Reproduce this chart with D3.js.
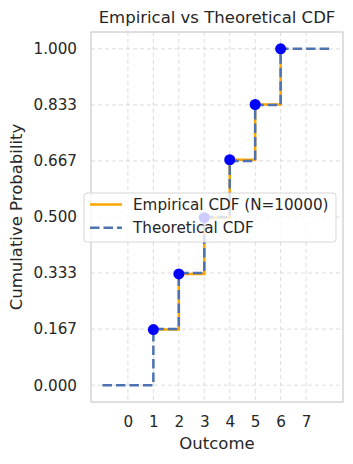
<!DOCTYPE html>
<html>
<head>
<meta charset="utf-8">
<script src="https://cdn.jsdelivr.net/npm/d3@7"></script>
<style>
  body { margin: 0; background: #fff; }
  text { font-family: "DejaVu Sans", sans-serif; fill: #262626; }
</style>
</head>
<body>
<svg id="chart" width="353" height="464"></svg>
<script>
// outcomes of a fair die
const outcomes = [1, 2, 3, 4, 5, 6];
// empirical CDF (N=10000)
const empirical = [0.1652, 0.3308, 0.4981, 0.6702, 0.8345, 1.0];
// theoretical CDF, drawn from -1 to 8
const theoX = [-1, 1, 2, 3, 4, 5, 6, 8];
const theoY = [0, 1/6, 2/6, 3/6, 4/6, 5/6, 1, 1];
const xTicks = [0, 1, 2, 3, 4, 5, 6, 7];
const yTicks = [0, 1/6, 2/6, 3/6, 4/6, 5/6, 1];

const svg = d3.select('#chart');
const pLeft = 91, pRight = 343, pTop = 32, pBottom = 402;

const x = d3.scaleLinear().domain([-1.45, 8.45]).range([pLeft, pRight]);
const y = d3.scaleLinear().domain([-0.05, 1.05]).range([pBottom, pTop]);

// grid
const grid = svg.append('g').attr('stroke', '#dcdcdc').attr('stroke-width', 1)
  .attr('stroke-dasharray', '4,3');
grid.selectAll('.gx').data(xTicks).enter().append('line')
  .attr('x1', d => x(d)).attr('x2', d => x(d)).attr('y1', pTop).attr('y2', pBottom);
grid.selectAll('.gy').data(yTicks).enter().append('line')
  .attr('y1', d => y(d)).attr('y2', d => y(d)).attr('x1', pLeft).attr('x2', pRight);

// axes (labels only, no tick marks)
const xAxis = svg.append('g').attr('transform', `translate(0,${pBottom})`)
  .call(d3.axisBottom(x).tickValues(xTicks).tickSize(0).tickPadding(14).tickFormat(d3.format('d')));
const yAxis = svg.append('g').attr('transform', `translate(${pLeft},0)`)
  .call(d3.axisLeft(y).tickValues(yTicks).tickSize(0).tickPadding(14).tickFormat(d3.format('.3f')));
[xAxis, yAxis].forEach(a => {
  a.select('.domain').remove();
  a.selectAll('text').style('font-size', '15.2px').attr('fill', '#262626')
    .style('font-family', '"DejaVu Sans", sans-serif');
});

// empirical CDF, step "post"
const stepLine = d3.line().x(d => x(d[0])).y(d => y(d[1])).curve(d3.curveStepAfter);
const empPts = outcomes.map((o, i) => [o, empirical[i]]);
svg.append('path').datum(empPts)
  .attr('d', stepLine)
  .attr('fill', 'none').attr('stroke', '#FFA500').attr('stroke-width', 2.5);

// theoretical CDF dashed
const theoPts = theoX.map((v, i) => [v, theoY[i]]);
svg.append('path').datum(theoPts)
  .attr('d', stepLine)
  .attr('fill', 'none').attr('stroke', '#4C72B0').attr('stroke-width', 2.5)
  .attr('stroke-dasharray', '9.5,4');

// markers
svg.selectAll('.dot').data(empPts).enter().append('circle')
  .attr('cx', d => x(d[0])).attr('cy', d => y(d[1])).attr('r', 5.5)
  .attr('fill', '#0000ff');

// frame
svg.append('rect').attr('x', pLeft).attr('y', pTop)
  .attr('width', pRight - pLeft).attr('height', pBottom - pTop)
  .attr('fill', 'none').attr('stroke', '#cccccc').attr('stroke-width', 1.25);

// legend
const lg = svg.append('g');
lg.append('rect').attr('x', 84).attr('y', 193).attr('width', 252).attr('height', 49)
  .attr('rx', 3).attr('fill', 'rgba(255,255,255,0.8)').attr('stroke', '#d6d6d6').attr('stroke-width', 1);
const items = [
  { label: 'Empirical CDF (N=10000)', color: '#FFA500', dash: null },
  { label: 'Theoretical CDF', color: '#4C72B0', dash: '9.5,4' }
];
items.forEach((it, i) => {
  const cy = 204.5 + i * 23.3;
  lg.append('line').attr('x1', 90).attr('x2', 122).attr('y1', cy).attr('y2', cy)
    .attr('stroke', it.color).attr('stroke-width', 2.5)
    .attr('stroke-dasharray', it.dash);
  lg.append('text').attr('x', 133).attr('y', cy).attr('dy', '0.35em')
    .style('font-size', '15.2px').text(it.label);
});

// titles
svg.append('text').attr('x', (pLeft + pRight) / 2).attr('y', 23)
  .attr('text-anchor', 'middle').style('font-size', '16.5px')
  .text('Empirical vs Theoretical CDF');
svg.append('text').attr('x', (pLeft + pRight) / 2).attr('y', 449)
  .attr('text-anchor', 'middle').style('font-size', '16.5px')
  .text('Outcome');
svg.append('text').attr('transform', `translate(22,${(pTop + pBottom) / 2}) rotate(-90)`)
  .attr('text-anchor', 'middle').style('font-size', '16.5px')
  .text('Cumulative Probability');
</script>
</body>
</html>
